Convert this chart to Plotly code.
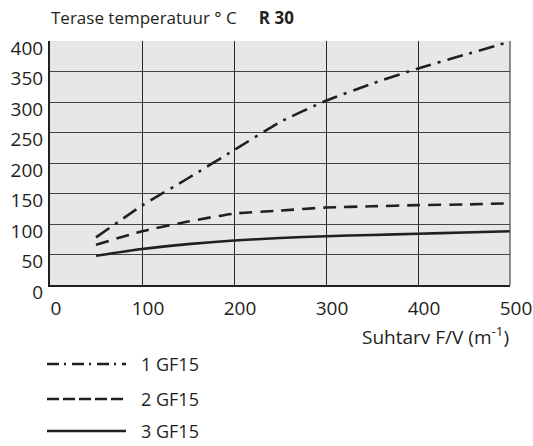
import plotly.graph_objects as go

# ---- data ----
fv = [50, 100, 150, 200, 250, 300, 350, 400, 450, 500]
gf15_1 = [78, 130, 175, 221, 267, 302, 330, 355, 377, 399]
gf15_2 = [66, 88, 104, 117, 122, 127, 129, 131, 132, 134]
gf15_3 = [48, 59, 67, 73, 77, 80, 82, 84, 86, 88]
series_names = ["1 GF15", "2 GF15", "3 GF15"]
x_ticks = [0, 100, 200, 300, 400, 500]
y_ticks = [0, 50, 100, 150, 200, 250, 300, 350, 400]

W, H = 533, 446
L, R, T, B = 50, 510, 41, 285
PW, PH = R - L, B - T

def px(x):
    return (x - L) / PW

def py(y):
    return (B - y) / PH

ink = "#231f20"
font = "Open Sans"

fig = go.Figure()
dashes = ["16px,7px,3px,7px", "13px,8px", "solid"]
for name, ys, d in zip(series_names, [gf15_1, gf15_2, gf15_3], dashes):
    fig.add_trace(go.Scatter(x=fv, y=ys, mode="lines", name=name,
                             line=dict(color=ink, width=2.6, dash=d, shape="spline", smoothing=0.6),
                             showlegend=False))

# manual legend
leg_y = [364, 399, 431]
leg_dash = ["12px,5px,2px,6px", "12px,4px", "solid"]
for name, yy, d in zip(series_names, leg_y, leg_dash):
    fig.add_shape(type="line", xref="paper", yref="paper",
                  x0=px(47), x1=px(126), y0=py(yy), y1=py(yy),
                  line=dict(color=ink, width=2.6, dash=d))
    fig.add_annotation(xref="paper", yref="paper", x=px(139), y=py(yy),
                       text=name, showarrow=False, xanchor="left", yanchor="middle",
                       font=dict(family=font, size=18, color=ink))

# title
fig.add_annotation(xref="paper", yref="paper", x=px(50), y=py(17.5), borderpad=0,
                   text="Terase temperatuur ° C&nbsp;&nbsp;&nbsp;&nbsp;&nbsp;<b>R 30</b>",
                   showarrow=False, xanchor="left", yanchor="middle",
                   font=dict(family=font, size=17, color=ink))
# x axis title
fig.add_annotation(xref="paper", yref="paper", x=px(511), y=py(336),
                   text="Suhtarv F/V (m<sup>-1</sup>)",
                   showarrow=False, xanchor="right", yanchor="middle",
                   font=dict(family=font, size=19, color=ink))

fig.update_layout(
    width=W, height=H,
    margin=dict(l=L, r=W - R, t=T, b=H - B, pad=0),
    paper_bgcolor="white", plot_bgcolor="#e6e7e8",
    font=dict(family=font, size=19, color=ink),
)
fig.update_xaxes(range=[0, 500], tickvals=x_ticks, ticktext=[str(v) for v in x_ticks],
                 showgrid=True, gridcolor="#2a2a2a", gridwidth=1.3, automargin=False,
                 showline=True, linecolor=ink, linewidth=2, mirror=False,
                 zeroline=False, ticks="", ticklabelstandoff=5, ticklabelshift=6,
                 ticklabeloverflow="allow",
                 tickfont=dict(family=font, size=19, color=ink))
fig.update_yaxes(range=[0, 400], tickvals=y_ticks, ticktext=[str(v) for v in y_ticks],
                 showgrid=True, gridcolor="#444444", gridwidth=1.3, automargin=False,
                 showline=True, linecolor=ink, linewidth=2, mirror=False,
                 zeroline=False, ticks="", ticklabelstandoff=1, ticklabelshift=7,
                 ticklabeloverflow="allow",
                 tickfont=dict(family=font, size=19, color=ink))
# right border
fig.add_shape(type="line", xref="paper", yref="paper", x0=1, x1=1, y0=0, y1=1,
              line=dict(color="#555555", width=1.3))

fig.write_html("out.html", config={"displayModeBar": False},
               post_script="document.body.style.margin='0';document.body.style.overflow='hidden';")
